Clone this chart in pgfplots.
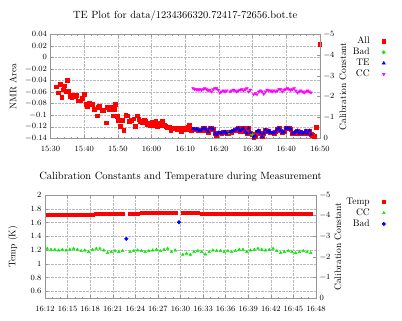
\documentclass[border=0pt]{standalone}
\usepackage{pgfplots}
\usepackage{pgfplotstable}
\pgfplotsset{compat=1.18}

\definecolor{gpred}{RGB}{255,0,0}
\definecolor{gpgreen}{RGB}{0,235,0}
\definecolor{gpblue}{RGB}{0,0,255}
\definecolor{gpmag}{RGB}{255,0,255}
\definecolor{gpframe}{RGB}{150,150,150}

% NMR area before the TE window (minutes after 15:30)
\pgfplotstableread{
t area
1.8 -0.0506
2.3 -0.061
2.8 -0.046
3.3 -0.069
3.8 -0.056
4.1 -0.049
4.5 -0.059
5.0 -0.040
5.3 -0.059
5.8 -0.067
6.3 -0.069
6.8 -0.065
7.3 -0.068
7.8 -0.065
8.3 -0.075
8.8 -0.075
9.3 -0.071
10.0 -0.064
10.5 -0.081
11.0 -0.084
11.5 -0.079
12.0 -0.082
12.5 -0.081
13.0 -0.089
13.8 -0.101
14.1 -0.086
14.5 -0.084
15.2 -0.092
15.7 -0.091
16.5 -0.113
16.9 -0.086
17.5 -0.090
18.0 -0.086
18.5 -0.101
18.8 -0.089
19.3 -0.081
19.7 -0.102
20.2 -0.108
20.7 -0.119
21.2 -0.108
21.7 -0.126
22.3 -0.100
22.9 -0.101
23.4 -0.110
24.0 -0.108
24.7 -0.106
25.2 -0.119
25.7 -0.101
26.2 -0.107
26.7 -0.110
27.2 -0.113
27.7 -0.108
28.2 -0.111
28.7 -0.115
29.2 -0.113
29.7 -0.117
30.2 -0.112
30.7 -0.117
31.2 -0.111
31.7 -0.120
32.3 -0.114
32.7 -0.117
33.2 -0.110
33.7 -0.117
34.2 -0.119
34.7 -0.121
35.2 -0.120
35.7 -0.126
36.2 -0.123
36.7 -0.123
37.2 -0.123
37.7 -0.124
38.2 -0.123
38.7 -0.128
39.2 -0.123
39.7 -0.123
40.2 -0.124
40.7 -0.121
41.2 -0.117
41.7 -0.126
}\predata

% TE window: NMR area, calibration constant, temperature
\pgfplotstableread{
t te cc temp
42.3 -0.1239 -2.404 1.712
42.8 -0.1245 -2.356 1.712
43.3 -0.1245 -2.356 1.713
43.8 -0.1256 -2.324 1.713
44.3 -0.1268 -2.356 1.712
44.8 -0.1256 -2.324 1.713
45.3 -0.1227 -2.356 1.714
45.8 -0.1227 -2.404 1.713
46.3 -0.1256 -2.356 1.713
46.8 -0.1291 -2.292 1.714
47.3 -0.1227 -2.324 1.714
47.8 -0.1227 -2.244 1.715
48.3 -0.1245 -2.356 1.718
48.8 -0.1314 -2.404 1.725
49.3 -0.1343 -2.404 1.728
49.8 -0.1302 -2.324 1.730
50.3 -0.1302 -2.196 1.731
50.8 -0.1314 -2.244 1.732
51.3 -0.1296 -2.292 1.732
51.8 -0.1285 -2.244 1.733
52.3 -0.1314 -2.292 1.733
53.3 -0.1285 -2.244 1.734
53.8 -0.1291 -2.292 1.735
54.3 -0.1268 -2.324 1.735
54.8 -0.1256 -2.292 1.736
55.3 -0.1245 -2.244 1.736
55.8 -0.1227 -2.292 1.737
56.3 -0.1273 -2.324 1.737
56.8 -0.1245 -2.356 1.738
57.3 -0.1227 -2.292 1.738
57.8 -0.1285 -2.356 1.737
58.3 -0.1314 -2.404 1.738
58.8 -0.1227 -2.244 1.737
59.3 -0.1302 -2.324 1.738
60.3 -0.1383 -2.115 1.738
60.8 -0.1360 -2.163 1.740
61.3 -0.1285 -2.115 1.741
61.8 -0.1268 -2.244 1.739
62.3 -0.1314 -2.292 1.736
62.8 -0.1372 -2.244 1.735
63.3 -0.1314 -2.131 1.734
63.8 -0.1256 -2.244 1.733
64.3 -0.1285 -2.324 1.733
64.8 -0.1268 -2.292 1.733
65.3 -0.1302 -2.292 1.734
65.8 -0.1302 -2.244 1.734
66.3 -0.1314 -2.292 1.735
66.8 -0.1285 -2.244 1.735
67.3 -0.1245 -2.292 1.734
67.8 -0.1227 -2.356 1.733
68.3 -0.1268 -2.356 1.733
68.8 -0.1302 -2.244 1.734
69.3 -0.1285 -2.324 1.734
69.8 -0.1227 -2.356 1.733
70.3 -0.1227 -2.404 1.733
70.8 -0.1227 -2.356 1.734
71.3 -0.1245 -2.324 1.735
71.8 -0.1314 -2.356 1.735
72.3 -0.1314 -2.404 1.735
72.8 -0.1285 -2.292 1.734
73.3 -0.1268 -2.196 1.734
73.8 -0.1314 -2.244 1.734
74.3 -0.1285 -2.292 1.735
74.8 -0.1314 -2.244 1.734
75.3 -0.1302 -2.196 1.734
75.8 -0.1268 -2.244 1.733
76.3 -0.1314 -2.292 1.733
76.8 -0.1268 -2.244 1.733
77.3 -0.1331 -2.196 1.733
}\tedata

\pgfplotstableread{
t area temp
52.8 -0.131 1.363
59.8 -0.133 1.605
}\baddata

\pgfplotstableread{
t area
77.8 -0.134
78.3 -0.136
78.8 -0.121
79.9 0.023
}\taildata

\pgfplotsset{
  gp/.style={
    scale only axis,
    font=\fontsize{9.5}{11}\selectfont,
    tick label style={font=\fontsize{8}{9}\selectfont},
    title style={font=\fontsize{10.5}{12}\selectfont},
    axis line style={gpframe},
    every tick/.style={gpframe},
    tick align=inside,
    major tick length=3pt,
    minor tick length=1.5pt,
    grid style={densely dotted, gray!55, line width=0.4pt},
    scaled ticks=false,
    xticklabel style={yshift=-4.5pt},
  },
  gpleg/.style={
    legend cell align=right,
    legend plot pos=right,
    legend style={draw=none, fill=none, inner sep=0pt, row sep=0pt,
      font=\fontsize{9.5}{11}\selectfont,
      nodes={inner sep=1pt, text height=7pt, text depth=2pt}},
  },
  % marker-only legend image: mark sits 13pt after the text, no line
  gpimg/.style={
    legend image code/.code={
      \path[draw=none, fill=none] (0cm,0cm) -- (0.65cm,0cm);
      \draw[##1, draw=none] plot coordinates {(0.46cm,0cm)};
    },
  },
  allm/.style={only marks, mark=square*, mark size=1.9pt, mark options={draw=gpred, fill=gpred}, gpimg},
  tem/.style={only marks, mark=triangle*, mark size=1.9pt, mark options={draw=gpblue, fill=gpblue}, gpimg},
  badm/.style={only marks, mark=*, mark size=1.6pt, mark options={draw=gpgreen, fill=gpgreen}, gpimg},
  ccm/.style={only marks, mark=triangle*, mark size=1.6pt, mark options={draw=gpmag, fill=gpmag, rotate=180}, gpimg},
  tempm/.style={only marks, mark=square*, mark size=1.5pt, mark options={draw=gpred, fill=gpred}, gpimg},
  cc2m/.style={only marks, mark=triangle*, mark size=1.6pt, mark options={draw=gpgreen, fill=gpgreen}, gpimg},
  bad2m/.style={only marks, mark=*, mark size=1.8pt, mark options={draw=gpblue, fill=gpblue}, gpimg},
}

\begin{document}
\begin{tikzpicture}
\useasboundingbox (0,0) rectangle (402pt,321pt);

% ---------------- top: TE plot ----------------
\begin{axis}[gp,
  at={(50.5pt,182.7pt)}, anchor=south west,
  width=269.5pt, height=104pt,
  xmin=0, xmax=80, ymin=-0.14, ymax=0.04,
  xtick={0,10,...,80},
  xticklabels={15:30,15:40,15:50,16:00,16:10,16:20,16:30,16:40,16:50},
  minor x tick num=4,
  ytick={-0.14,-0.12,-0.1,-0.08,-0.06,-0.04,-0.02,0,0.02,0.04},
  yticklabel style={/pgf/number format/fixed, /pgf/number format/precision=2},
  xtick pos=both, ytick pos=left,
  grid=major,
  title={TE Plot for data/1234366320.72417-72656.bot.te},
  title style={at={(0.5,1)}, anchor=south, yshift=4pt},
  ylabel={NMR Area},
  every axis y label/.style={at={(axis description cs:-0.139,0.5)}, rotate=90, anchor=center},
]
\addplot[allm] table[x=t, y=area] {\predata};
\addplot[allm] table[x=t, y=te] {\tedata};
\addplot[allm] table[x=t, y=area] {\baddata};
\addplot[allm] table[x=t, y=area] {\taildata};
\addplot[badm] table[x=t, y=area] {\baddata};
\addplot[tem] table[x=t, y=te] {\tedata};
\end{axis}

\begin{axis}[gp, gpleg,
  at={(50.5pt,182.7pt)}, anchor=south west,
  width=269.5pt, height=104pt,
  xmin=0, xmax=80, ymin=-5, ymax=0, y dir=reverse,
  axis x line=none, axis y line*=right,
  ytick={-5,-4,-3,-2,-1,0},
  ylabel={Calibration Constant},
  every axis y label/.style={at={(axis description cs:1.085,0.5)}, rotate=90, anchor=center},
  legend style={at={(axis description cs:1.2575,0.988)}, anchor=north east},
]
\addlegendimage{allm}\addlegendentry{All}
\addlegendimage{badm}\addlegendentry{Bad}
\addlegendimage{tem}\addlegendentry{TE}
\addplot[ccm] table[x=t, y=cc] {\tedata};
\addlegendentry{CC}
\end{axis}

% ---------------- bottom: calibration constants and temperature ----------------
\begin{axis}[gp,
  at={(45pt,22.7pt)}, anchor=south west,
  width=271pt, height=103.3pt,
  xmin=42, xmax=78, ymin=0.5, ymax=2,
  xtick={42,45,...,78},
  xticklabels={16:12,16:15,16:18,16:21,16:24,16:27,16:30,16:33,16:36,16:39,16:42,16:45,16:48},
  minor x tick num=2,
  ytick={0.6,0.8,1,1.2,1.4,1.6,1.8,2},
  xtick pos=both, ytick pos=left,
  grid=major,
  title={Calibration Constants and Temperature during Measurement},
  title style={at={(0.5,1)}, anchor=south, yshift=4pt},
  ylabel={Temp (K)},
  every axis y label/.style={at={(axis description cs:-0.118,0.5)}, rotate=90, anchor=center},
]
\addplot[tempm] table[x=t, y=temp] {\tedata};
\addplot[bad2m] table[x=t, y=temp] {\baddata};
\end{axis}

\begin{axis}[gp, gpleg,
  at={(45pt,22.7pt)}, anchor=south west,
  width=271pt, height=103.3pt,
  xmin=42, xmax=78, ymin=-5, ymax=0, y dir=reverse,
  axis x line=none, axis y line*=right,
  ytick={-5,-4,-3,-2,-1,0},
  ylabel={Calibration Constant},
  every axis y label/.style={at={(axis description cs:1.081,0.5)}, rotate=90, anchor=center},
  legend style={at={(axis description cs:1.271,0.988)}, anchor=north east},
]
\addlegendimage{tempm}\addlegendentry{Temp}
\addplot[cc2m] table[x=t, y=cc] {\tedata};
\addlegendentry{CC}
\addlegendimage{bad2m}\addlegendentry{Bad}
\end{axis}
\end{tikzpicture}
\end{document}
